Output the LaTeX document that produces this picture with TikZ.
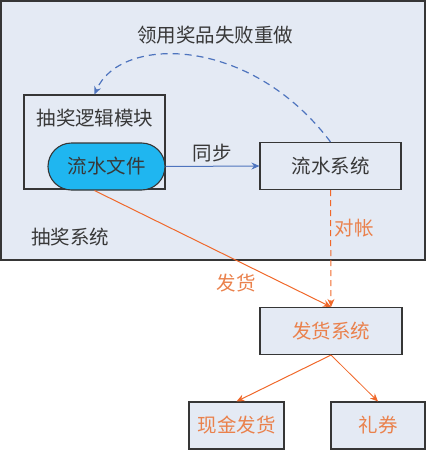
\documentclass[tikz,border=0pt]{standalone}
\usepackage{fontspec}
\newfontfamily\cjk{Noto Sans CJK SC}
\usetikzlibrary{shapes.misc,arrows.meta}
\definecolor{bgblue}{HTML}{E4EAF4}
\definecolor{pillblue}{HTML}{1FB6F0}
\definecolor{lineblue}{HTML}{4E74BE}
\definecolor{lineorange}{HTML}{F0682A}
\definecolor{textorange}{HTML}{EA814C}
\definecolor{edgegray}{HTML}{363636}

\begin{document}
\begin{tikzpicture}
[
    x=1pt, y=-1pt,
    every node/.style={font=\cjk\fontsize{19.5}{21}\selectfont, text=black!78, inner sep=0pt},
    box/.style={draw=edgegray, line width=1.1pt, fill=bgblue},
    orangebox/.style={box, text=textorange},
    tip/.style={-{Stealth[length=8pt,width=7pt]}},
]
\useasboundingbox (0,0) rectangle (426,450);
\draw [box, line width=1.4pt] (1,1) rectangle (425,260);

% lottery side
\node [box, minimum width=141pt, minimum height=94pt] (module) at (94.5,142) {};
\node (modulelabel) at (95,118) {抽奖逻辑模块};
\node [box, fill=pillblue, rounded rectangle, minimum width=117pt, minimum height=47pt] (flowfile) at (106.5,166.5) {流水文件};
\node [box, minimum width=141pt, minimum height=47pt] (flowsys) at (330.5,166) {流水系统};
\node (lottery) at (70,237) {抽奖系统};
\node (retry) at (215,35) {领用奖品失败重做};
\node (sync) at (212,153) {同步};

% shipping side
\node [orangebox, minimum width=142pt, minimum height=47pt] (ship) at (331,331) {发货系统};
\node [orangebox, minimum width=95pt, minimum height=47pt] (cash) at (236.5,425.5) {现金发货};
\node [orangebox, minimum width=94pt, minimum height=47pt] (coupon) at (378,425.5) {礼券};
\node [text=textorange] (check) at (354,228) {对帐};
\node [text=textorange] (deliver) at (236,283) {发货};

% connectors
\draw [tip, lineblue, line width=1pt] (flowfile.east) -- (flowsys.west);
\draw [tip, lineblue, line width=1.2pt, dash pattern=on 7pt off 5pt]
    (flowsys.north) .. controls (250,35) and (120,35) .. (module.north);
\draw [tip, lineorange, line width=1pt] (flowfile.south -| module.north) -- (ship.north);
\draw [tip, lineorange, line width=1pt, dash pattern=on 6pt off 4pt] (flowsys.south) -- (ship.north);
\draw [tip, lineorange, line width=1pt] (ship.south) -- (cash.north);
\draw [tip, lineorange, line width=0.8pt] (ship.south) -- (coupon.north);
\end{tikzpicture}
\end{document}
